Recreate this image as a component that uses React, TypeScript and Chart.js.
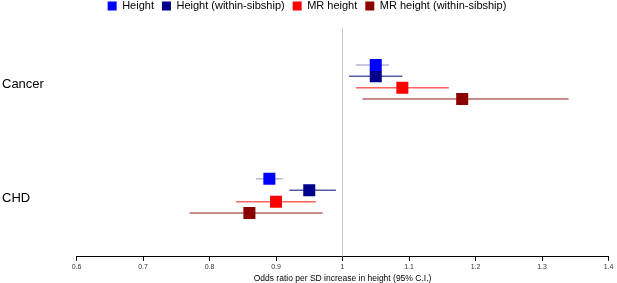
import React, { useEffect, useRef } from "react";
import { Chart, registerables } from "chart.js";

Chart.register(...registerables);

const categories = ["Cancer", "CHD"];
const seriesNames = ["Height", "Height (within-sibship)", "MR height", "MR height (within-sibship)"];
const seriesColors = ["#0000FF", "#00008B", "#FF0000", "#8B0000"];
const ciColors = ["#b4b4d4", "#5a5aa4", "#ff6464", "#b46464"];

// odds ratios per category [Cancer, CHD]
const estHeight = [1.05, 0.89];
const loHeight = [1.02, 0.87];
const hiHeight = [1.07, 0.91];

const estHeightSib = [1.05, 0.95];
const loHeightSib = [1.01, 0.92];
const hiHeightSib = [1.09, 0.99];

const estMR = [1.09, 0.9];
const loMR = [1.02, 0.84];
const hiMR = [1.16, 0.96];

const estMRSib = [1.18, 0.86];
const loMRSib = [1.03, 0.77];
const hiMRSib = [1.34, 0.97];

const xTicks = [0.6, 0.7, 0.8, 0.9, 1, 1.1, 1.2, 1.3, 1.4];
const xTitle = "Odds ratio per SD increase in height (95% C.I.)";

const estimates = [estHeight, estHeightSib, estMR, estMRSib];
const lows = [loHeight, loHeightSib, loMR, loMRSib];
const highs = [hiHeight, hiHeightSib, hiMR, hiMRSib];
const rowOffsets = [-0.15, -0.05, 0.05, 0.15];

const FONT = "'Liberation Sans', Arial, Helvetica, sans-serif";

const ciPlugin = {
  id: "ciLines",
  beforeDatasetsDraw(chart: any) {
    const { ctx, scales } = chart;
    const x = scales.x;
    const y = scales.y;
    ctx.save();
    chart.data.datasets.forEach((ds: any) => {
      ds.data.forEach((p: any, i: number) => {
        const py = y.getPixelForValue(p.y);
        ctx.beginPath();
        ctx.strokeStyle = ds.ciColor;
        ctx.lineWidth = 1.5;
        ctx.moveTo(x.getPixelForValue(ds.ciLo[i]), py);
        ctx.lineTo(x.getPixelForValue(ds.ciHi[i]), py);
        ctx.stroke();
      });
    });
    ctx.restore();
  },
};

export default function App() {
  const ref = useRef<HTMLCanvasElement | null>(null);

  useEffect(() => {
    if (!ref.current) return;
    const datasets = seriesNames.map((name, s) => ({
      label: name,
      data: categories.map((_, i) => ({ x: estimates[s][i], y: i + rowOffsets[s] })),
      ciLo: lows[s],
      ciHi: highs[s],
      ciColor: ciColors[s],
      backgroundColor: seriesColors[s],
      borderColor: seriesColors[s],
      pointStyle: "rect",
      pointRadius: 8.5,
      borderWidth: 0,
      showLine: false,
    }));

    const chart = new Chart(ref.current, {
      type: "scatter",
      data: { datasets: datasets as any },
      plugins: [ciPlugin],
      options: {
        animation: false,
        responsive: false,
        events: [],
        layout: { padding: { top: -7.5, left: 2, right: 5, bottom: -1 } },
        plugins: {
          tooltip: { enabled: false },
          title: {
            display: true,
            text: "",
            weight: 500,
            font: { size: 1, lineHeight: 1 },
            padding: { top: 0, bottom: 5.5 },
          } as any,
          legend: {
            display: true,
            position: "top",
            labels: {
              boxWidth: 9,
              boxHeight: 9,
              padding: 8,
              color: "#000",
              font: { family: FONT, size: 11 },
              generateLabels: () =>
                seriesNames.map((n, s) => ({
                  text: n,
                  fillStyle: seriesColors[s],
                  strokeStyle: seriesColors[s],
                  lineWidth: 0,
                  hidden: false,
                  datasetIndex: s,
                })),
            },
          },
        },
        scales: {
          x: {
            type: "linear",
            min: 0.6,
            max: 1.4,
            afterBuildTicks: (scale: any) => {
              scale.ticks = xTicks.map((v) => ({ value: v }));
            },
            afterFit: (scale: any) => {
              scale.paddingLeft = 0;
              scale.paddingRight = 0;
            },
            ticks: {
              autoSkip: false,
              maxRotation: 0,
              padding: 2,
              color: "#333",
              font: { family: FONT, size: 7 },
              callback: (v: any) => String(v),
            },
            grid: {
              display: true,
              drawOnChartArea: true,
              drawTicks: true,
              tickLength: 4,
              tickColor: "#000",
              lineWidth: 1,
              color: (c: any) => (c.tick && Math.abs(c.tick.value - 1) < 1e-9 ? "#c8c8c8" : "rgba(0,0,0,0)"),
            },
            border: { display: true, color: "#000", width: 1 },
            title: {
              display: true,
              text: xTitle,
              color: "#000",
              font: { family: FONT, size: 8.5 },
              padding: { top: 0.5, bottom: 0 },
            },
          },
          y: {
            type: "linear",
            reverse: true,
            min: -0.474,
            max: 1.535,
            afterBuildTicks: (scale: any) => {
              scale.ticks = categories.map((_, i) => ({ value: i + 0.02 }));
            },
            afterFit: (scale: any) => {
              scale.width = 74.5;
            },
            ticks: {
              autoSkip: false,
              crossAlign: "far",
              padding: 0,
              color: "#000",
              font: { family: FONT, size: 13 },
              callback: (_v: any, idx: number) => categories[idx],
            },
            grid: { display: false },
            border: { display: false },
          },
        },
      } as any,
    });
    return () => chart.destroy();
  }, []);

  return (
    <div style={{ position: "fixed", left: 0, top: 0, width: 617, height: 283, background: "#fff" }}>
      <canvas ref={ref} width={617} height={283} style={{ display: "block", width: 617, height: 283 }} />
    </div>
  );
}
